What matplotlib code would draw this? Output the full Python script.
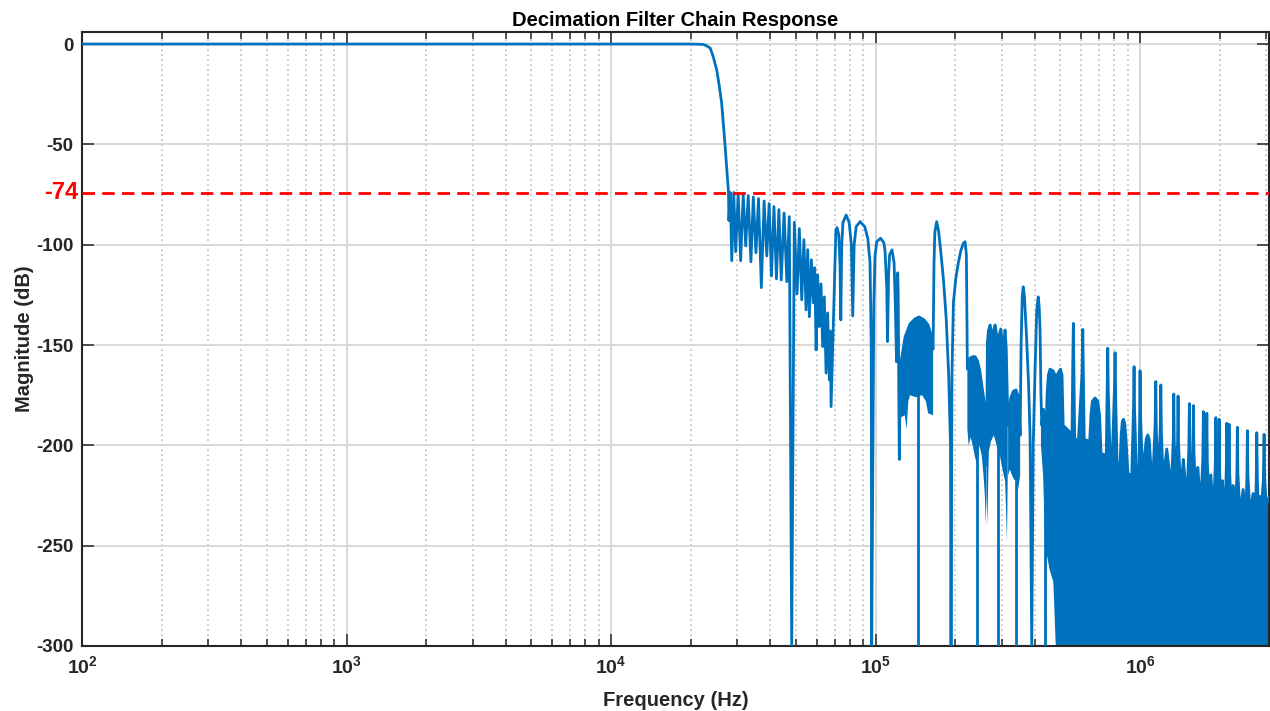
import numpy as np
import matplotlib
matplotlib.use('Agg')
import matplotlib.pyplot as plt
from matplotlib.transforms import blended_transform_factory

plt.rcParams['font.family'] = ['Liberation Sans', 'DejaVu Sans']
plt.rcParams['font.weight'] = 'bold'
plt.rcParams['mathtext.fontset'] = 'custom'
plt.rcParams['mathtext.rm'] = 'Liberation Sans:bold'
plt.rcParams['mathtext.bf'] = 'Liberation Sans:bold'

# --- data (Hz, dB) ---
# passband and transition
pass_f = [100, 1000, 10000, 20000, 22300, 22900, 23700, 24300, 25100, 25600, 26200, 27000, 27800]
pass_db = [0, 0, 0, 0, -0.2, -0.8, -2, -6, -13, -20, -29.5, -51, -74]

# first stopband ripples (alternating null / peak)
ripple_f = [27900, 28250, 28600, 29100, 29600, 30250, 30900, 31600, 32300, 33000,
            33800, 34500, 35300, 36100, 37000, 37900, 38800, 39600, 40400, 41300,
            42200, 43100, 44000, 45100, 46200, 47200, 48200, 49300, 50500, 51500,
            52600, 53600, 54600, 55400, 56200, 57200, 58200, 58900, 59600, 60400,
            61300, 62200, 63100, 64000, 65000, 65900, 66900, 67400, 67900]
ripple_db = [-88, -74, -108, -74, -103.5, -74.5, -108, -75, -100.6, -75.5,
             -108.5, -76.2, -104, -77, -121.4, -78.2, -105.6, -79.5, -115.6, -81,
             -117, -82.5, -117.6, -84.2, -118.4, -86, -300, -88.8, -124.5, -92,
             -127.5, -97.5, -132.5, -102.5, -135.9, -107.5, -129, -111.5, -152.5, -115,
             -140.8, -119.5, -150.8, -126, -164, -134, -167.4, -143, -180.7]

# wide side lobes
lobe_f = [70200, 70800, 71500, 72600, 73400, 73900, 74500, 75300, 77400, 79500,
          81000, 82000, 83000, 84500, 87400, 91000, 93500, 95300, 96300, 96700,
          98500, 99500, 101000, 104400, 107500, 108600, 110200, 111000, 112000, 113000,
          115400, 117500, 118800, 120000, 120800, 121300, 121800, 122500, 123000]
lobe_db = [-110, -93, -91.5, -95, -110, -137.5, -100, -89, -85.2, -89,
           -100, -135.5, -100, -91, -88.5, -91, -97, -109, -150, -300,
           -130, -106, -98.5, -96.8, -99, -103, -121, -148.3, -115, -105,
           -102.6, -109, -130, -158.3, -118, -114, -124, -180, -207]

# dense band C
c_top_f = [123700, 125000, 129300, 135000, 141000, 146000, 152600, 157900, 162100, 165000]
c_top_db = [-165, -158, -146, -139.5, -137, -136, -137.5, -140, -145, -152]
c_bot_f = [123700, 124400, 125000, 129000, 131000, 133000, 135000, 142000, 150000, 155000, 158000, 165000]
c_bot_db = [-185, -207, -186, -185, -192, -178, -175, -176, -175, -178, -184, -185]

# two big lobes
arch_f = [166300, 167500, 170200, 173000, 176000, 180500, 185000, 189000, 192000, 192900,
          194500, 196900, 201000, 205600, 210000, 214700, 218000, 220500, 221700]
arch_db = [-110, -94, -88.5, -93, -102, -117, -137, -165, -200, -300,
           -165, -129, -117, -109, -103, -99.3, -98.5, -105, -140]

# dense band D
d_top_f = [222400, 223700, 228000, 233000, 237800, 243000, 248000, 252100, 256000, 259400, 262500]
d_top_db = [-162, -158.5, -156.5, -155.8, -155.8, -158, -163, -170, -176, -182, -200]
d_bot_f = [222400, 225000, 229000, 233000, 237000, 242000, 247000, 252000, 256000, 259000, 261000, 262500]
d_bot_db = [-192, -200, -196, -200, -205, -210, -200, -205, -215, -225, -240, -225]

# dense band E
e_top_f = [263000, 264700, 267000, 271000, 275000, 279000, 283100, 287000, 291000, 295000,
           297500, 301000, 305000, 308800, 312000, 316000]
e_top_db = [-210, -149, -143, -140, -145, -143, -140, -145, -147, -144,
            -142, -148, -149, -142.5, -152, -185]
e_bot_f = [263000, 264700, 268000, 273000, 280000, 287000, 295000, 302000, 309000, 314000, 316000]
e_bot_db = [-225, -240, -203, -198, -195, -200, -205, -212, -218, -248, -215]

# dense band F
f_top_f = [317000, 320000, 325000, 332000, 339800, 345000, 349000, 352000]
f_top_db = [-190, -182, -176, -173, -172.4, -175, -182, -195]
f_bot_f = [317000, 322000, 328000, 334000, 340000, 346000, 352000]
f_bot_db = [-215, -212, -215, -217, -218, -222, -215]

# two tall narrow lobes
tall_f = [355000, 358500, 361600, 365500, 372300, 379000, 383900, 389500,
          394500, 400900, 406800, 412000, 415500, 418700, 422000]
tall_db = [-150, -126, -121, -126, -146, -170, -196, -300,
           -200, -162, -132.5, -126, -131, -142.5, -175]

# upper edge of the high-frequency region
far_top_f = [422000, 425000, 430900, 436000, 440000, 445000, 450000, 456700, 470000, 480000,
             490000, 500000, 507000, 512000, 520600, 540000, 553000, 556500, 559600, 562500,
             566000, 585000, 603000, 607400, 611000, 615000, 645000, 652000, 660000, 676000,
             692000, 703000, 712000, 745000, 751000, 754800, 758000, 770000, 785000, 800000,
             804300, 808500, 818500, 840000, 848000, 857000, 865000, 875000, 885000, 900000,
             930000, 945000, 949100, 953000, 970000, 990000, 997000, 1000000, 1004000, 1025000,
             1040000, 1055000, 1069000, 1083000, 1098000, 1115000, 1140000, 1146600, 1152000, 1170000,
             1192000, 1198000, 1204000, 1225000, 1240000, 1261600, 1283000, 1310000, 1335000, 1341000,
             1347000, 1370000, 1386000, 1392000, 1398000, 1425000, 1440000, 1457000, 1475000, 1505000,
             1529000, 1536000, 1543000, 1565000, 1584000, 1591000, 1598000, 1625000, 1640000, 1653000,
             1668000, 1700000, 1727000, 1735000, 1743000, 1765000, 1780000, 1788000, 1796000, 1820000,
             1838000, 1851000, 1865000, 1900000, 1925000, 1933000, 1941000, 1965000, 1982000, 1990000,
             1998000, 2020000, 2035000, 2048000, 2062000, 2100000, 2118000, 2127000, 2136000, 2160000,
             2170000, 2180000, 2210000, 2230000, 2247000, 2265000, 2300000, 2323000, 2333000, 2343000,
             2380000, 2420000, 2452000, 2480000, 2515000, 2535000, 2545000, 2556000, 2600000, 2640000,
             2675000, 2710000, 2735000, 2750000, 2762000, 2775000, 2800000, 2842000, 2880000, 2925000,
             2943000, 2960000, 3000000, 3072000]
far_top_db = [-175, -190, -182, -186, -200, -175, -165, -162, -163, -166,
              -164, -162, -165, -190, -191, -193, -195, -160, -139.2, -165,
              -197, -197, -165, -142.2, -168, -197, -198, -185, -178, -176.4,
              -178, -185, -204, -205, -170, -151.6, -172, -205, -206, -172,
              -153.8, -175, -209, -209, -195, -188, -187, -189, -197, -214,
              -215, -180, -160.8, -182, -216, -217, -183, -162.8, -185, -218,
              -205, -197, -194.8, -197, -210, -220, -190, -168.2, -192, -220,
              -192, -169.9, -193, -222, -210, -201.8, -210, -224, -197, -174.4,
              -198, -224, -198, -175.4, -199, -225, -215, -207, -215, -226,
              -201, -179.2, -202, -226, -203, -180.2, -203, -227, -218, -211,
              -218, -228, -206, -183.2, -207, -228, -207, -184, -208, -228,
              -221, -214.7, -221, -229, -209, -186.2, -210, -229, -210, -187,
              -211, -229, -223, -217.6, -223, -230, -212, -189, -212, -212,
              -189.5, -213, -230, -226, -220, -226, -231, -214, -191, -214,
              -231, -228, -222, -228, -232, -215, -192.7, -215, -232, -229,
              -224, -229, -232, -216, -193.7, -216, -232, -225.5, -230, -217,
              -194.5, -217, -230, -226]
far_bot_f = [422000, 430000, 436000, 440000, 445000, 455000, 470000, 480000, 490000, 3072000]
far_bot_db = [-200, -215, -240, -264, -255, -262, -268, -300, -300, -300]

# deep nulls inside the dense bands
null_f = [145100, 242600, 291300, 340000, 437300]
null_top = [-150, -170, -160, -190, -200]

y_ticks = [-300, -250, -200, -150, -100, -50, 0]
x_ticks = [1e2, 1e3, 1e4, 1e5, 1e6]
x_tick_labels = [r'$10^{2}$', r'$10^{3}$', r'$10^{4}$', r'$10^{5}$', r'$10^{6}$']
limit_db = -74

blue = '#0072BD'
ink = '#262626'

fig = plt.figure(figsize=(12.7, 7.11), dpi=100)
ax = fig.add_axes([82 / 1270, 1 - 646 / 711, (1269 - 82) / 1270, (646 - 32) / 711])

# dense bands drawn as filled shapes
bands = [(c_top_f, c_top_db, c_bot_f, c_bot_db),
         (d_top_f, d_top_db, d_bot_f, d_bot_db),
         (e_top_f, e_top_db, e_bot_f, e_bot_db),
         (f_top_f, f_top_db, f_bot_f, f_bot_db),
         (far_top_f, far_top_db, far_bot_f, far_bot_db)]
for tf, tdb, bf, bdb in bands:
    ax.fill(np.r_[tf, bf[::-1]], np.r_[tdb, bdb[::-1]], color=blue, lw=0, zorder=2)

curve_f = np.r_[pass_f, ripple_f, lobe_f, c_top_f, arch_f, d_top_f, e_top_f, f_top_f, tall_f, far_top_f]
curve_db = np.r_[pass_db, ripple_db, lobe_db, c_top_db, arch_db, d_top_db, e_top_db, f_top_db, tall_db, far_top_db]
ax.plot(curve_f, curve_db, color=blue, lw=2, zorder=3)
ax.vlines(null_f, -300, null_top, color=blue, lw=2, zorder=3)

ax.axhline(limit_db, color='red', lw=2, ls='--', dashes=(4.5, 2.6), zorder=4)

ax.set_xscale('log')
ax.set_xlim(100, 3.072e6)
ax.set_ylim(-300, 6)
ax.set_xticks(x_ticks)
ax.set_xticklabels(x_tick_labels)
ax.set_yticks(y_ticks)
ax.set_yticklabels([str(v) for v in y_ticks])

ax.set_axisbelow(True)
ax.grid(True, which='major', color='#d6d6d6', lw=1.3, ls='-')
ax.grid(True, which='minor', axis='x', color='#bdbdbd', lw=1.2, ls=(0, (1, 2)))

ax.tick_params(which='both', direction='in', top=True, right=True, colors=ink, width=1.1)
ax.tick_params(which='major', length=8.6, labelsize=13.5, pad=6)
ax.tick_params(which='minor', length=5)
ax.tick_params(axis='x', which='major', labelsize=14, pad=7)
for s in ax.spines.values():
    s.set_color(ink)
    s.set_linewidth(1.5)

ax.text(-0.003, limit_db, str(limit_db), color='red', fontsize=17, fontweight='bold',
        ha='right', va='center', transform=blended_transform_factory(ax.transAxes, ax.transData))

ax.set_title('Decimation Filter Chain Response', fontsize=14.5, fontweight='bold', color='black', pad=4)
ax.set_xlabel('Frequency (Hz)', fontsize=14.5, fontweight='bold', color=ink, labelpad=9)
ax.set_ylabel('Magnitude (dB)', fontsize=14.5, fontweight='bold', color=ink, labelpad=2)

fig.savefig('out.png', dpi=100)
